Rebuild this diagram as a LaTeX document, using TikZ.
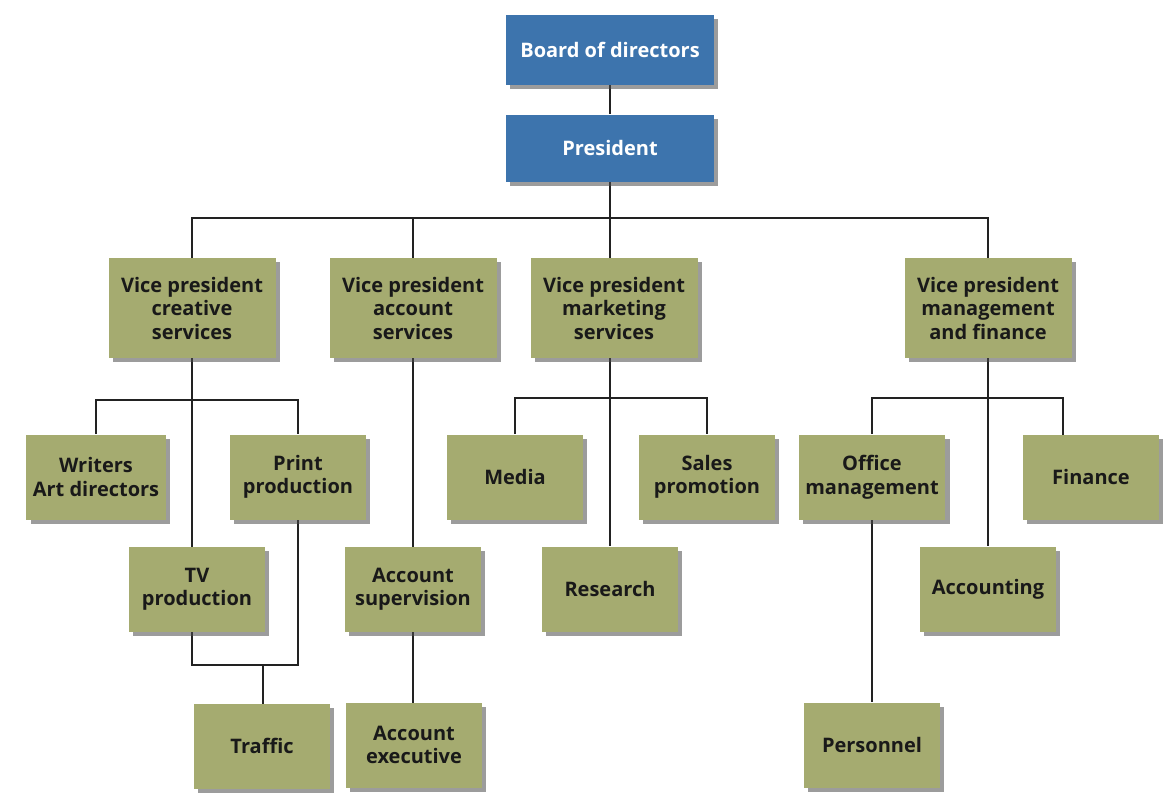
\documentclass[tikz,border=0pt]{standalone}
\usepackage{fontspec}
\setmainfont{Open Sans}
\usepackage{tikz}
\usetikzlibrary{shadows, backgrounds}
\usepackage{xcolor}
\definecolor{boardblue}{HTML}{3D74AD}
\definecolor{unitgreen}{HTML}{A5AB70}
\definecolor{linedark}{HTML}{222222}

\begin{document}
\begin{tikzpicture}[
        x=0.5pt, y=-0.5pt,
        shade/.style={drop shadow={shadow xshift=2.2pt, shadow yshift=-2.2pt,
          fill=black!70, opacity=0.55}},
        topbox/.style={rectangle, fill=boardblue, text=white, shade,
          minimum width=104pt, minimum height=35pt, align=center,
          font=\fontsize{10}{12}\selectfont\bfseries},
        vpbox/.style={rectangle, fill=unitgreen, text=black!90, shade,
          minimum width=83.5pt, minimum height=50pt, align=center,
          font=\fontsize{10}{11.75}\selectfont\bfseries},
        unitbox/.style={vpbox, minimum width=68pt, minimum height=42.5pt},
        conn/.style={draw=linedark, line width=1.1pt},
      ]
        \useasboundingbox (0,0) rectangle (1165,805);

        \node[topbox] (board) at (610,50) {Board of directors};
        \node[topbox, minimum height=33.5pt] (president) at (610,148) {President};

        \node[vpbox] (vpcre) at (192,308) {Vice president\\creative\\services};
        \node[vpbox] (vpacc) at (413,308) {Vice president\\account\\services};
        \node[vpbox] (vpmkt) at (614,308) {Vice president\\marketing\\services};
        \node[vpbox] (vpmgt) at (988,308) {Vice president\\management\\and finance};

        % creative services
        \node[unitbox] (writers) at (96,477) {Writers\\Art directors};
        \node[unitbox] (print) at (298,477) {Print\\production};
        \node[unitbox] (tvprod) at (197,589) {TV\\production};
        \node[unitbox] (traffic) at (262,746) {Traffic};

        % account services
        \node[unitbox] (acctsup) at (413,589) {Account\\supervision};
        \node[unitbox] (acctexe) at (414,745) {Account\\executive};

        % marketing services
        \node[unitbox] (media) at (515,477) {Media};
        \node[unitbox] (sales) at (707,477) {Sales\\promotion};
        \node[unitbox] (research) at (610,589) {Research};

        % management and finance
        \node[unitbox] (office) at (872,477) {Office\\management};
        \node[unitbox] (finance) at (1091,477) {Finance};
        \node[unitbox] (accounting) at (988,589) {Accounting};
        \node[unitbox] (personnel) at (872,745) {Personnel};

        \coordinate (vpbus) at (610,218);
        \coordinate (crebus) at (192,400);
        \coordinate (trbus) at (263,665);
        \coordinate (mktbus) at (610,398);
        \coordinate (mgtbus) at (988,398);
        \coordinate (finbus) at (1063,398);

        \begin{scope}[on background layer]
          \fill[white] (0,0) rectangle (1165,805);
          \draw[conn] (board) -- (president);
          \draw[conn] (president) -- (research);
          \draw[conn] (vpcre) |- (vpbus) -| (vpmgt);
          \draw[conn] (vpacc) -- (vpacc |- vpbus);

          \draw[conn] (vpcre) -- (vpcre |- tvprod.center);
          \draw[conn] (writers) |- (crebus) -| (print);
          \draw[conn] (vpcre |- tvprod.center) |- (trbus) -| (print);
          \draw[conn] (trbus) -- (trbus |- traffic.center);

          \draw[conn] (vpacc) -- (vpacc |- acctexe.center);

          \draw[conn] (media) |- (mktbus) -| (sales);

          \draw[conn] (vpmgt) -- (accounting);
          \draw[conn] (office) |- (mgtbus) -- (finbus) -- (finbus |- finance.center);
          \draw[conn] (office) -- (personnel);
        \end{scope}
      \end{tikzpicture}
\end{document}
